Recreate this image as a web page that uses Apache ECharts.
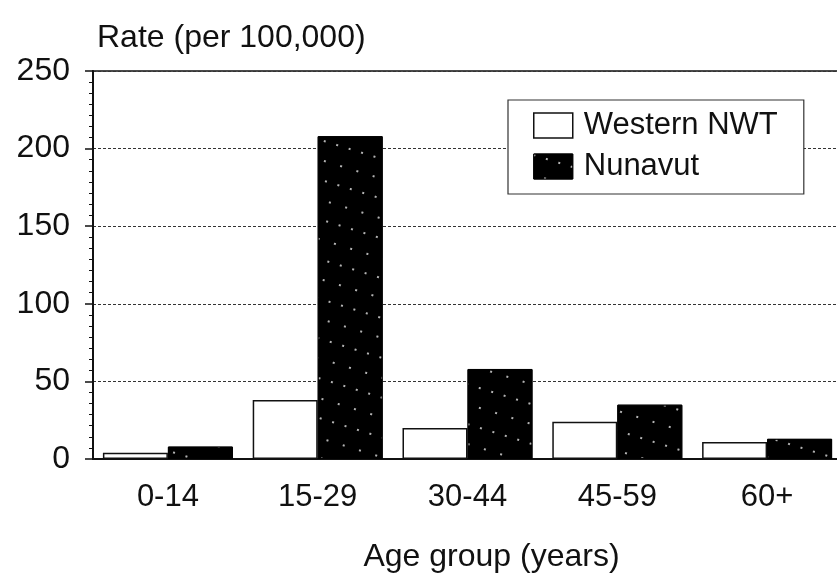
<!DOCTYPE html>
<html>
<head>
<meta charset="utf-8">
<script src="https://cdn.jsdelivr.net/npm/echarts@6/dist/echarts.min.js"></script>
<style>html,body{margin:0;padding:0;background:#fff}#c{width:837px;height:575px}</style>
</head>
<body>
<div id="c"></div>
<script>
const categories = ['0-14', '15-29', '30-44', '45-59', '60+'];
const westernNWT = [4, 38, 20, 24, 11];
const nunavut = [8, 208, 58, 35, 13];
const yTicks = [0, 50, 100, 150, 200, 250];

const FONT = 'Liberation Sans, Arial, sans-serif';
const chart = echarts.init(document.getElementById('c'));
chart.setOption({
  animation: false,
  backgroundColor: '#fff',
  textStyle: { fontFamily: FONT, color: '#111' },
  grid: { left: 93, top: 71, bottom: 116, right: -5, outerBoundsMode: 'none', containLabel: false,
    show: true, borderColor: '#111', borderWidth: 1.5, backgroundColor: 'transparent' },
  legend: {
    left: 508, top: 100, orient: 'vertical', icon: 'rect',
    padding: [10, 26, 12, 25],
    itemWidth: 39, itemHeight: 25, itemGap: 10,
    backgroundColor: '#fff', borderColor: '#333', borderWidth: 1.2,
    textStyle: { fontSize: 31, fontFamily: FONT, color: '#111', padding: [0, 0, 0, 6] },
    data: [
      { name: 'Western NWT', itemStyle: { color: '#fff', borderColor: '#111', borderWidth: 1.5 } },
      { name: 'Nunavut', itemStyle: { color: '#000', borderColor: '#000', borderWidth: 1 } }
    ]
  },
  xAxis: {
    type: 'category', data: categories,
    name: 'Age group (years)', nameLocation: 'middle', nameGap: 82,
    nameTextStyle: { fontSize: 32, color: '#111', fontFamily: FONT, padding: [0, 0, 0, 48] },
    axisLine: { lineStyle: { color: '#111', width: 2 } },
    axisTick: { alignWithLabel: true, length: 9, lineStyle: { color: '#111', width: 1.5 } },
    axisLabel: { fontSize: 31, color: '#111', margin: 23, fontFamily: FONT },
    splitLine: { show: false }
  },
  yAxis: {
    type: 'value', min: 0, max: 250, interval: 50,
    name: 'Rate (per 100,000)', nameLocation: 'end', nameGap: 33,
    nameTextStyle: { fontSize: 32, color: '#111', align: 'left', verticalAlign: 'middle', fontFamily: FONT, padding: [0, 0, 0, 4] },
    axisLine: { show: true, lineStyle: { color: '#111', width: 2 } },
    axisTick: { show: true, length: 8, lineStyle: { color: '#111', width: 1.5 } },
    minorTick: { show: true, splitNumber: 7, length: 4, lineStyle: { color: '#111', width: 1 } },
    axisLabel: { fontSize: 32, color: '#111', margin: 23, fontFamily: FONT,
      formatter: v => yTicks.includes(v) ? String(v) : '' },
    splitLine: { show: true, lineStyle: { color: '#333', width: 1.2, type: [3, 2] } }
  },
  series: [
    { name: 'Western NWT', type: 'bar', data: westernNWT, barWidth: 65, barGap: '0%',
      itemStyle: { color: '#fff', borderColor: '#111', borderWidth: 1.5 } },
    { name: 'Nunavut', type: 'bar', data: nunavut, barWidth: 65,
      itemStyle: { color: '#000', borderColor: '#000', borderWidth: 1,
        decal: { symbol: 'rect', symbolSize: 1, color: 'rgba(255,255,255,0.7)', dashArrayX: [[2, 15], [2, 11]], dashArrayY: [2, 17], rotation: 0.3 } } }
  ]
});
</script>
</body>
</html>
